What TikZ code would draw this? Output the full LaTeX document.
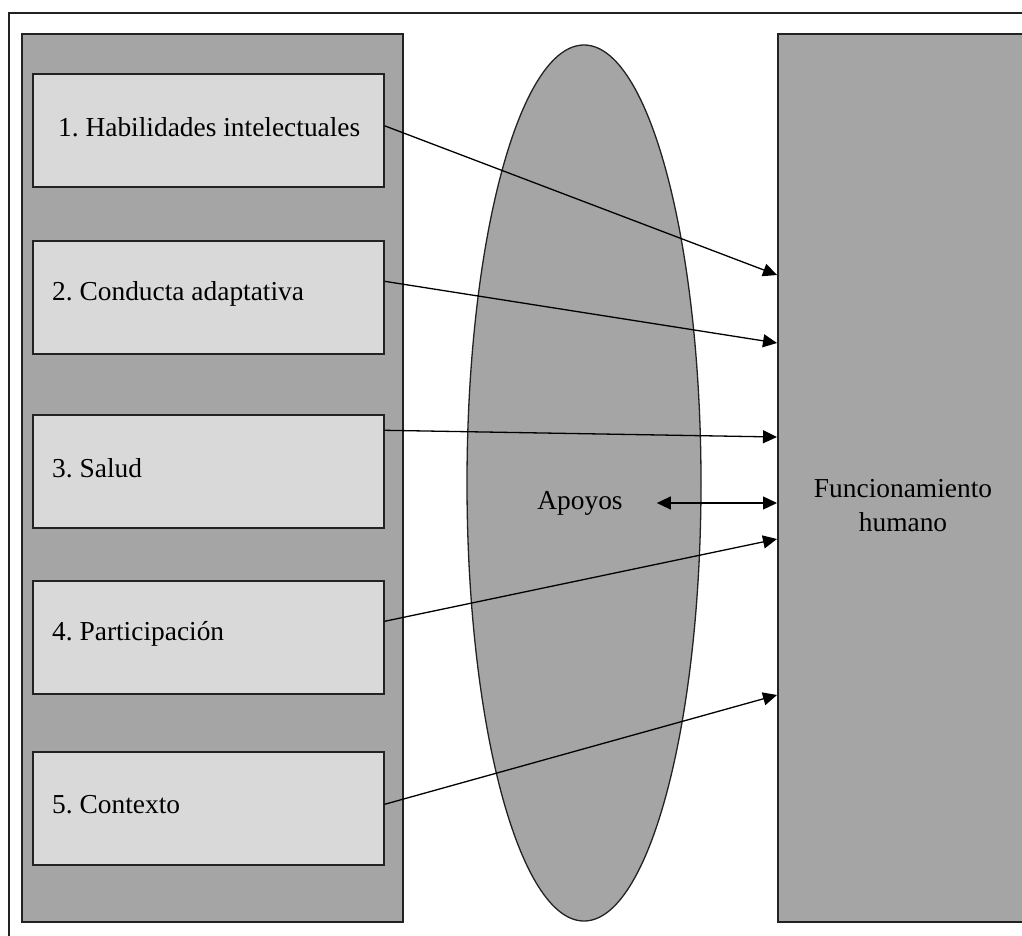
\documentclass[tikz,border=0pt]{standalone}
\usepackage{fontspec}
\setmainfont{Liberation Serif}
\frenchspacing
\usetikzlibrary{arrows.meta,shapes.geometric,calc}

\definecolor{panelgray}{HTML}{A5A5A5}
\definecolor{boxgray}{HTML}{D9D9D9}
\definecolor{edge}{HTML}{222222}

\tikzset{
  panel/.style={draw=edge, line width=1.8pt, fill=panelgray, rectangle, inner sep=0pt},
  itembox/.style={draw=edge, line width=1.6pt, fill=boxgray, rectangle,
    minimum width=351pt, minimum height=113pt, inner sep=0pt, anchor=north west},
  itemtext/.style={font=\fontsize{27.4}{33}\selectfont, inner sep=0pt, anchor=west},
  label/.style={font=\fontsize{27.4}{34}\selectfont, align=center, inner sep=0pt},
  conn/.style={draw=black, line width=1.3pt, -{Triangle[length=14pt,width=13pt]}},
  bothconn/.style={draw=black, line width=1.3pt,
    {Triangle[length=14pt,width=13pt]}-{Triangle[length=14pt,width=13pt]}},
}

\begin{document}
\begin{tikzpicture}[x=1pt, y=-1pt]
  \useasboundingbox (0,0) rectangle (1022,936);
  \clip (0,0) rectangle (1022,936);
  \fill[white] (0,0) rectangle (1022,936);

  % outer frame (runs past the right and lower edges)
  \draw[edge, line width=1.8pt] (9,960) -- (9,13) -- (1050,13);

  % the two panels
  \node[panel, minimum width=381pt, minimum height=888pt, anchor=north west] (dims) at (21,33) {};
  \node[panel, minimum width=290pt, minimum height=888pt, anchor=north west] (fh) at (777,33) {};
  \node[label] (fhtext) at (903,506) {Funcionamiento\\humano};

  % supports ellipse
  \node[ellipse, draw=edge, line width=1.3pt, fill=panelgray,
        minimum width=234pt, minimum height=876pt, inner sep=0pt] (sup) at (584,483) {};
  \node[label] (ap) at (580,503) {Apoyos};

  % the five dimensions
  \node[itembox] (b1) at (32,73)  {};
  \node[itembox] (b2) at (32,240) {};
  \node[itembox] (b3) at (32,414) {};
  \node[itembox] (b4) at (32,580) {};
  \node[itembox] (b5) at (32,751) {};
  \node[itemtext] (t1) at ($(b1.west)+(26,-3)$) {1. Habilidades intelectuales};
  \node[itemtext] (t2) at ($(b2.west)+(20,-3)$) {2. Conducta adaptativa};
  \node[itemtext] (t3) at ($(b3.west)+(20,-3)$) {3. Salud};
  \node[itemtext] (t4) at ($(b4.west)+(20,-3)$) {4. Participación};
  \node[itemtext] (t5) at ($(b5.west)+(20,-4)$) {5. Contexto};

  % connectors into human functioning
  \draw[conn] ([yshift=4.5pt]b1.east) -- ($(fh.north west)+(0,242)$);
  \draw[conn] ([yshift=16pt]b2.east)  -- ($(fh.north west)+(0,310)$);
  \draw[conn] ([yshift=41pt]b3.east)  -- ($(fh.north west)+(0,404)$);
  \draw[conn] ([yshift=16pt]b4.east)  -- ($(fh.north west)+(0,506)$);
  \draw[conn] ([yshift=4pt]b5.east)   -- ($(fh.north west)+(0,662)$);
  \draw[bothconn] ([xshift=34pt]ap.east) -- (fh.west |- ap.east);
\end{tikzpicture}
\end{document}
